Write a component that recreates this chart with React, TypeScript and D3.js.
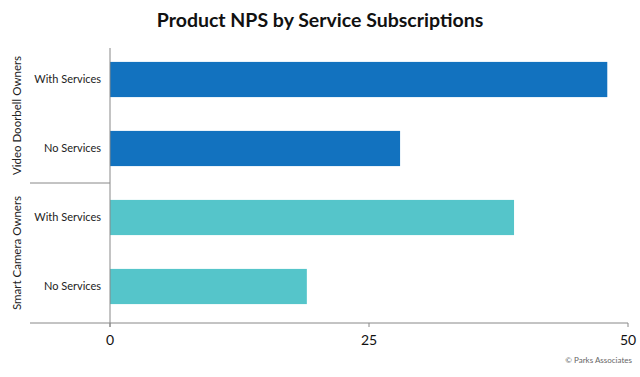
import React from "react";
import * as d3 from "d3";

const categories = ["VD-With", "VD-No", "SC-With", "SC-No"];
const categoryLabels = ["With Services", "No Services", "With Services", "No Services"];
const values = [48, 28, 39, 19];
const groupOf = [0, 0, 1, 1];
const groups = ["Video Doorbell Owners", "Smart Camera Owners"];
const groupColors = ["#1272bf", "#55c5ca"];
const xTicks = [0, 25, 50];

export default function App() {
  const W = 640, H = 377;
  const x = d3.scaleLinear().domain([0, 50]).range([110, 628]);
  const y = d3.scaleBand<string>().domain(categories).range([45, 321]).paddingInner(0.49).paddingOuter(0.245);
  const axisY = 323;
  const font = "Lato, 'Open Sans', sans-serif";
  const sepY = (y("VD-No")! + y.bandwidth() + y("SC-With")!) / 2;
  return (
    <svg width={W} height={H} style={{ position: "absolute", left: 0, top: 0, background: "#fff" }} fontFamily={font}>
      <text x={320} y={27} textAnchor="middle" fontSize={19.5} fontWeight={700} fill="#111">
        Product NPS by Service Subscriptions
      </text>
      {categories.map((c, i) => (
        <rect key={c} x={x(0)} y={y(c)!} width={x(values[i]) - x(0)} height={y.bandwidth()} fill={groupColors[groupOf[i]]} />
      ))}
      {categories.map((c, i) => (
        <text key={c + "l"} x={101} y={y(c)! + y.bandwidth() / 2} dy="0.35em" textAnchor="end" fontSize={11} fill="#222">
          {categoryLabels[i]}
        </text>
      ))}
      <line x1={x(0)} x2={x(0)} y1={48} y2={axisY + 4} stroke="#888" strokeWidth={1} />
      <line x1={30} x2={x(50)} y1={axisY} y2={axisY} stroke="#888" strokeWidth={1} />
      <line x1={30} x2={x(0)} y1={sepY} y2={sepY} stroke="#888" strokeWidth={1} />
      {xTicks.map((t) => (
        <g key={t}>
          <line x1={x(t)} x2={x(t)} y1={axisY} y2={axisY + 4} stroke="#888" />
          <text x={x(t)} y={345} textAnchor="middle" fontSize={14} fill="#111">{t}</text>
        </g>
      ))}
      {groups.map((g, gi) => {
        const top = gi === 0 ? 48 : sepY;
        const bot = gi === 0 ? sepY : axisY;
        const cy = (top + bot) / 2;
        return (
          <text key={g} transform={`translate(17,${cy}) rotate(-90)`} dy="0.35em" textAnchor="middle" fontSize={11.5} fill="#222">
            {g}
          </text>
        );
      })}
      <text x={632} y={363} textAnchor="end" fontSize={8} fill="#666">© Parks Associates</text>
    </svg>
  );
}
